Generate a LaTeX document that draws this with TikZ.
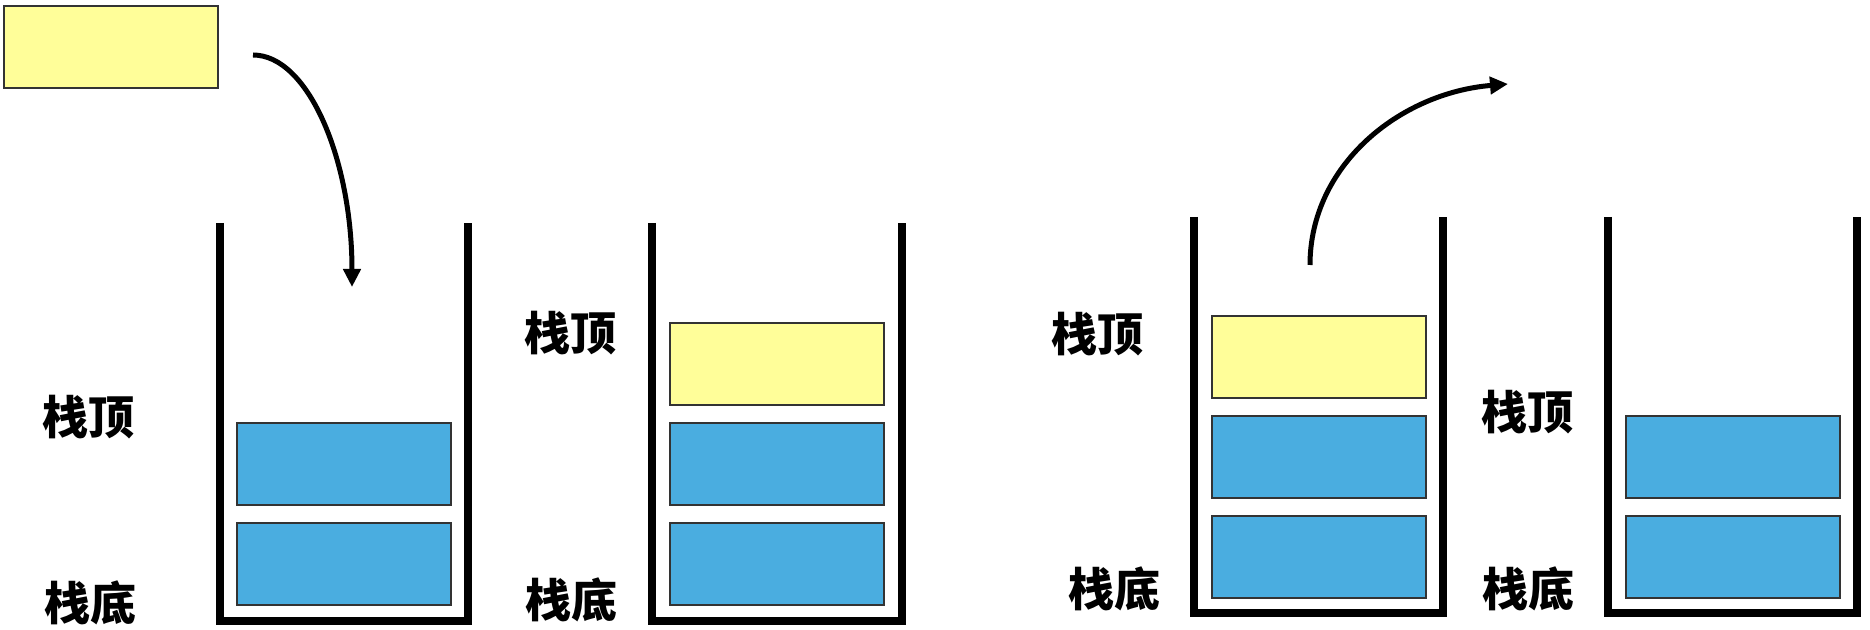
\documentclass[tikz,border=0pt]{standalone}
\usepackage{fontspec}
\newfontfamily\cjk{Noto Sans CJK SC}
\usepackage{tikz}
\usetikzlibrary{arrows.meta,positioning}
\definecolor{blockyellow}{RGB}{255,254,153}
\definecolor{blockblue}{RGB}{74,173,224}

\begin{document}
\begin{tikzpicture}[x=0.5pt, y=-0.5pt,
    block/.style={draw=black!80, line width=0.8pt, minimum width=107.2pt, minimum height=41.2pt, inner sep=0pt},
    newblk/.style={block, fill=blockyellow},
    oldblk/.style={block, fill=blockblue},
    cup/.style={line width=4pt, line join=miter},
    lbl/.style={font=\cjk\bfseries\fontsize{23pt}{23pt}\selectfont, inner sep=0pt},
    move/.style={-{Triangle[length=9pt, width=8.5pt]}, line width=2.5pt}]
  \useasboundingbox (0,0) rectangle (1870,630);

  % element to push
  \node[newblk] (new) at (111,47) {};

  % stack 1: before push
  \draw[cup] (220,223) |- (468,621) -- (468,223);
  \node[oldblk] (s1b0) at (344,564) {};
  \node[oldblk, above=8pt of s1b0] (s1b1) {};
  \node[lbl] (s1top) at (88,417) {栈顶};
  \node[lbl] (s1bot) at (90,603) {栈底};

  % stack 2: after push
  \draw[cup] (652,223) |- (902,621) -- (902,223);
  \node[oldblk] (s2b0) at (777,564) {};
  \node[oldblk, above=8pt of s2b0] (s2b1) {};
  \node[newblk, above=8pt of s2b1] (s2b2) {};
  \node[lbl] (s2top) at (570,333) {栈顶};
  \node[lbl] (s2bot) at (571,600) {栈底};

  % stack 3: before pop
  \draw[cup] (1194,217) |- (1443,613) -- (1443,217);
  \node[oldblk] (s3b0) at (1319,557) {};
  \node[oldblk, above=8pt of s3b0] (s3b1) {};
  \node[newblk, above=8pt of s3b1] (s3b2) {};
  \node[lbl] (s3top) at (1097,334) {栈顶};
  \node[lbl] (s3bot) at (1114,589) {栈底};

  % stack 4: after pop
  \draw[cup] (1608,217) |- (1857,613) -- (1857,217);
  \node[oldblk] (s4b0) at (1733,557) {};
  \node[oldblk, above=8pt of s4b0] (s4b1) {};
  \node[lbl] (s4top) at (1527,412) {栈顶};
  \node[lbl] (s4bot) at (1528,589) {栈底};

  % push and pop arrows
  \coordinate (pushfrom) at (253,55);
  \coordinate (pushto) at (352,287);
  \coordinate (popfrom) at (1310,265);
  \coordinate (popto) at (1508,84);
  \draw[move] (pushfrom) .. controls (308,55) and (352,159) .. (pushto);
  \draw[move] (popfrom) .. controls (1310,165) and (1400,93) .. (popto);
\end{tikzpicture}
\end{document}
